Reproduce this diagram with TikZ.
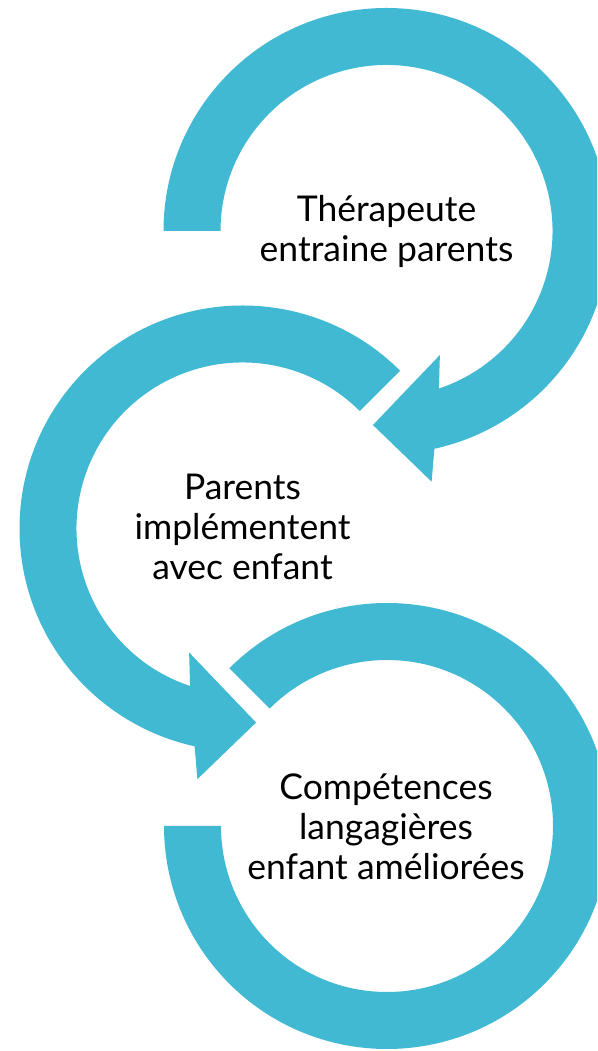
\documentclass[tikz,border=0pt]{standalone}
\usepackage{fontspec}
\setmainfont{Lato}
\definecolor{arrowc}{RGB}{65,185,211}
\begin{document}
\begin{tikzpicture}[x=1pt,y=1pt,
  band/.style={fill=arrowc, draw=none},
  lbl/.style={anchor=base, inner sep=0pt, font=\fontsize{35.5}{40}\selectfont}]
\useasboundingbox (0,0) rectangle (597,1051);
\clip (0,0) rectangle (597,1051);
\coordinate (c1) at (386.5,820);
\coordinate (c2) at (242.5,522.5);
\coordinate (c3) at (387,225);
% arrow 1
\begin{scope}[shift={(c1)}]
\fill[band] (180:223) arc[start angle=180, end angle=-77.6, radius=223]
  -- (-79.8:254.7) -- (-94:194.5) -- (-66.7:135) -- (-71.6:166)
  arc[start angle=-71.6, end angle=180, radius=166] -- cycle;
\end{scope}
% arrow 2
\begin{scope}[shift={(c2)}]
\fill[band] (45:223) arc[start angle=45, end angle=257.6, radius=223]
  -- (259.8:254.7) -- (274:194.5) -- (246.7:135) -- (251.6:166)
  arc[start angle=251.6, end angle=45, radius=166] -- cycle;
\end{scope}
% arrow 3
\begin{scope}[shift={(c3)}]
\fill[band] (135:223) arc[start angle=135, end angle=-180, radius=223]
  -- (180:166) arc[start angle=-180, end angle=135, radius=166] -- cycle;
\end{scope}
\node[lbl] (t1a) at (386.5,829.3) {Thérapeute};
\node[lbl] (t1b) at (386.5,789.3) {entraine parents};
\node[lbl] (t2a) at (242.5,551) {Parents};
\node[lbl] (t2b) at (242.5,511) {implémentent};
\node[lbl] (t2c) at (242.5,471) {avec enfant};
\node[lbl] (t3a) at (386,251) {Compétences};
\node[lbl] (t3b) at (386,211) {langagières};
\node[lbl] (t3c) at (386,171) {enfant améliorées};
\end{tikzpicture}
\end{document}
